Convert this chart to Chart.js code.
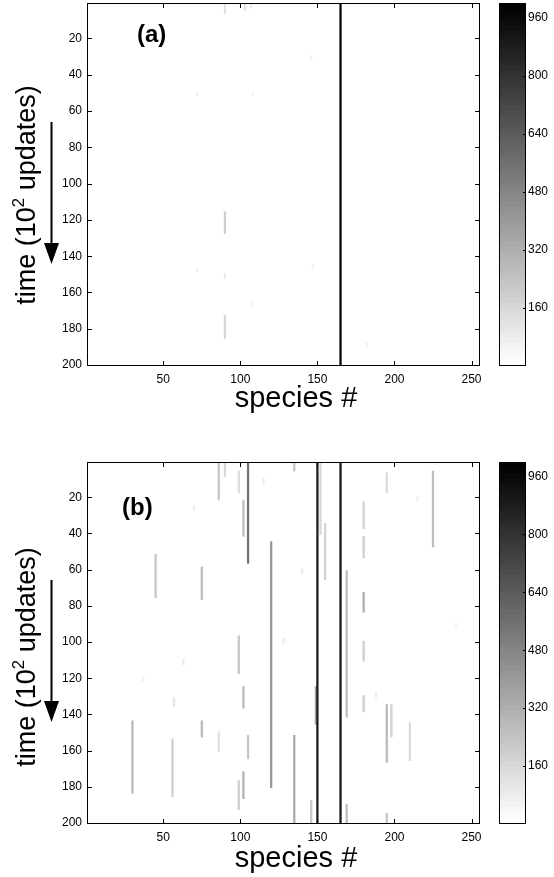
<!DOCTYPE html>
<html>
<head>
<meta charset="utf-8">
<script src="https://cdn.jsdelivr.net/npm/chart.js@4.4.1/dist/chart.umd.min.js"></script>
<style>
  body { margin: 0; background: #fff; width: 554px; height: 877px; position: relative; overflow: hidden;
         font-family: "Liberation Sans", Arial, sans-serif; }
  canvas { position: absolute; }
  .lbl { position: absolute; white-space: nowrap; line-height: 1; color: #000; }
  .ylab { font-size: 27px; transform: translate(-50%, -50%) rotate(-90deg); }
  .ylab sup { font-size: 0.62em; vertical-align: 0.62em; line-height: 0; }
  .xlab { font-size: 29px; transform: translateX(-50%); }
  .tag { font-size: 24px; font-weight: bold; }
</style>
</head>
<body>
<canvas id="heatA" width="490" height="410" style="left:0;top:0"></canvas>
<canvas id="barA" width="64" height="410" style="left:490px;top:0"></canvas>
<canvas id="heatB" width="490" height="410" style="left:0;top:459px"></canvas>
<canvas id="barB" width="64" height="410" style="left:490px;top:459px"></canvas>

<div class="lbl ylab" style="left:26px;top:195px">time (10<sup>2</sup> updates)</div>
<div class="lbl ylab" style="left:26px;top:657px">time (10<sup>2</sup> updates)</div>
<div class="lbl xlab" style="left:296px;top:383px">species #</div>
<div class="lbl xlab" style="left:296px;top:843px">species #</div>
<div class="lbl tag" style="left:137px;top:22px">(a)</div>
<div class="lbl tag" style="left:122px;top:495px">(b)</div>

<svg width="554" height="877" style="position:absolute;left:0;top:0;pointer-events:none">
  <line x1="51.5" y1="122" x2="51.5" y2="246" stroke="#000" stroke-width="2"/>
  <polygon points="44,243 59,243 51.5,264" fill="#000"/>
  <line x1="51.5" y1="580" x2="51.5" y2="704" stroke="#000" stroke-width="2"/>
  <polygon points="44,701 59,701 51.5,722" fill="#000"/>
</svg>

<script>
// axis ticks
const xTicks  = [50, 100, 150, 200, 250];
const yTicks  = [20, 40, 60, 80, 100, 120, 140, 160, 180, 200];
const cbTicks = [160, 320, 480, 640, 800, 960];
const cbMax   = 1000;

// panel (a): streaks of abundance, species / first row / last row / level
const aSpecies = [165,  90,  90,  90,  90, 103, 107, 72,  72, 108, 108, 146, 147, 182];
const aStart   = [  1,   1, 116, 150, 173,   1,   1, 50, 147,  50, 166,  30, 145, 188];
const aEnd     = [200,   6, 127, 152, 185,   4,   3, 51, 148,  51, 167,  32, 147, 190];
const aLevel   = [980, 120, 200,  90, 170, 110,  90, 50,  50,  50,  50,  50,  50,  50];

// panel (b)
const bSpecies = [ 30,  45,  56,  75,  75,  86,  86,  90,  99,  99,  99, 102, 102, 102, 105, 105,
                  120, 135, 135, 146, 149, 150, 152, 155, 165, 169, 169, 180, 180, 180, 180, 180,
                  195, 195, 195, 198, 210, 225,
                   63,  70,  37, 115, 128, 140, 188, 240, 215,  57];
const bStart   = [144,  52, 154,  59, 144,   1, 150,   1,   6,  97, 177,  22, 125, 172,   1, 152,
                   45,   1, 152, 188, 125,   1,   1,  35,   1,  61, 190,  23,  42,  73, 100, 130,
                    7, 135, 195, 135, 145,   6,
                  110,  25, 120,  10,  98,  60, 128,  90,  20, 131];
const bEnd     = [183,  75, 185,  76, 152,  21, 160,   8,  17, 117, 192,  41, 136, 186,  56, 164,
                  180,   5, 200, 200, 145, 200,  40,  65, 200, 141, 200,  37,  53,  83, 110, 138,
                   17, 166, 200, 152, 165,  47,
                  112,  27, 121,  12, 100,  62, 130,  92,  22, 135];
const bLevel   = [280, 230, 200, 250, 280, 220, 130, 160, 150, 230, 200, 250, 280, 300, 560, 220,
                  420, 220, 330, 220, 350, 880, 160, 180, 900, 260, 250, 180, 200, 320, 200, 190,
                  150, 270, 220, 180, 150, 260,
                   80,  70,  70,  90,  90,  90,  90,  60,  60, 100];

// inverted gray colormap, 64 levels like the original
function grayOf(v) {
  const k = Math.min(63, Math.floor(v / cbMax * 64));
  const g = Math.round(255 * (1 - k / 63));
  return `rgb(${g},${g},${g})`;
}

const tickFont = { family: '"Liberation Sans", Arial, sans-serif', size: 12 };

// no extra room for edge labels, the plot area is fixed
function noPad(s) {
  s.paddingTop = 0; s.paddingBottom = 0; s.paddingLeft = 0; s.paddingRight = 0;
}

// box around the plot area + ticks pointing inward
const frame = {
  id: 'frame',
  afterDraw(chart, args, opts) {
    const { ctx, chartArea: a, scales } = chart;
    ctx.save();
    ctx.strokeStyle = '#000';
    ctx.lineWidth = 1;
    ctx.beginPath();
    if (opts.heat) {
      scales.x.ticks.forEach(t => {
        const px = Math.round(scales.x.getPixelForValue(t.value)) + 0.5;
        ctx.moveTo(px, a.bottom); ctx.lineTo(px, a.bottom - 5);
        ctx.moveTo(px, a.top);    ctx.lineTo(px, a.top + 5);
      });
      scales.y.ticks.forEach(t => {
        const py = Math.round(scales.y.getPixelForValue(t.value)) + 0.5;
        ctx.moveTo(a.left, py);  ctx.lineTo(a.left + 5, py);
        ctx.moveTo(a.right, py); ctx.lineTo(a.right - 5, py);
      });
    } else {
      scales.y.ticks.forEach(t => {
        const py = Math.round(scales.y.getPixelForValue(t.value)) + 0.5;
        ctx.moveTo(a.right, py); ctx.lineTo(a.right - 3, py);
      });
    }
    ctx.stroke();
    ctx.strokeRect(Math.round(a.left) + 0.5, Math.round(a.top) + 0.5,
                   Math.round(a.right - a.left) - 1, Math.round(a.bottom - a.top) - 1);
    ctx.restore();
  }
};

function heatmap(id, sp, t0, t1, lev, bottom) {
  new Chart(document.getElementById(id), {
    type: 'bar',
    data: {
      datasets: [{
        data: sp.map((s, i) => ({ x: s, y: [t0[i] - 0.5, t1[i] + 0.5] })),
        backgroundColor: lev.map(grayOf),
        barThickness: 1.6,
        borderWidth: 0
      }]
    },
    options: {
      responsive: false,
      animation: false,
      layout: { padding: { top: 3, right: 10, left: 0, bottom: 0 } },
      plugins: { legend: { display: false }, tooltip: { enabled: false }, frame: { heat: true } },
      scales: {
        x: {
          type: 'linear', min: 0.5, max: 255.5, offset: false,
          grid: { display: false, drawTicks: false, offset: false }, border: { display: false },
          afterBuildTicks: s => { s.ticks = xTicks.map(v => ({ value: v })); },
          afterFit: s => { s.height = 410 - bottom; noPad(s); },
          ticks: { color: '#000', font: tickFont, padding: 6, maxRotation: 0, autoSkip: false }
        },
        y: {
          type: 'linear', reverse: true, min: 0.5, max: 200.5,
          grid: { display: false, drawTicks: false }, border: { display: false },
          afterBuildTicks: s => { s.ticks = yTicks.map(v => ({ value: v })); },
          afterFit: s => { s.width = 87; noPad(s); },
          ticks: { color: '#000', font: tickFont, padding: 5, autoSkip: false }
        }
      }
    },
    plugins: [frame]
  });
}

function colorbar(id, bottom) {
  // one band per colormap level, drawn largest first so no seams show
  const bands = [];
  for (let k = 0; k < 64; k++) {
    const g = Math.round(255 * (1 - k / 63));
    bands.push({
      data: [[0, (k + 1) * cbMax / 64]],
      backgroundColor: `rgb(${g},${g},${g})`,
      barPercentage: 1, categoryPercentage: 1, grouped: false, borderWidth: 0
    });
  }
  new Chart(document.getElementById(id), {
    type: 'bar',
    data: { labels: [''], datasets: bands },
    options: {
      responsive: false,
      animation: false,
      layout: { padding: { top: 3, left: 9, right: 0, bottom: 410 - bottom } },
      plugins: { legend: { display: false }, tooltip: { enabled: false }, frame: { heat: false } },
      scales: {
        x: { display: false },
        y: {
          position: 'right', min: 0, max: cbMax,
          grid: { display: false, drawTicks: false }, border: { display: false },
          afterBuildTicks: s => { s.ticks = cbTicks.map(v => ({ value: v })); },
          afterFit: s => { s.width = 28; noPad(s); },
          ticks: { color: '#000', font: tickFont, padding: 2, autoSkip: false }
        }
      }
    },
    plugins: [frame]
  });
}

heatmap('heatA', aSpecies, aStart, aEnd, aLevel, 366);
colorbar('barA', 366);
heatmap('heatB', bSpecies, bStart, bEnd, bLevel, 365);
colorbar('barB', 365);
</script>
</body>
</html>
